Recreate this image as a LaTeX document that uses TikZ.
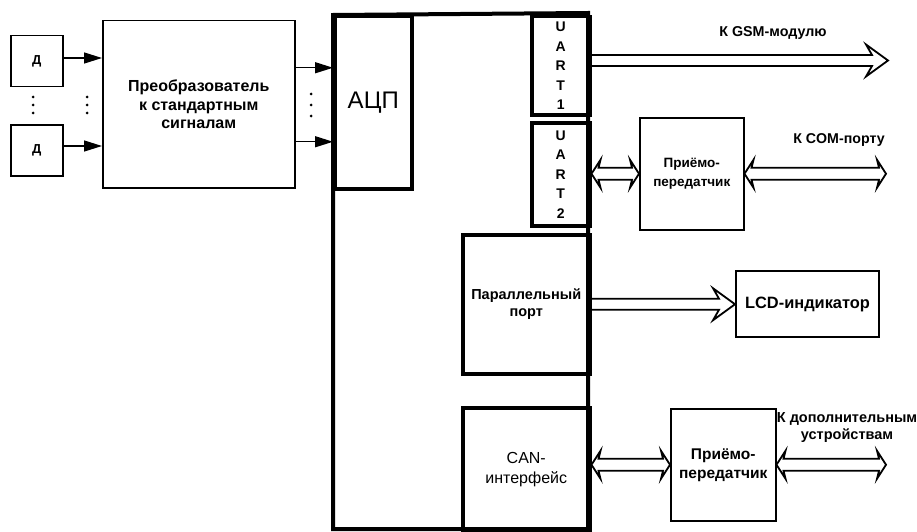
\documentclass[tikz,border=0pt]{standalone}
\usepackage{fontspec}
\setmainfont{Liberation Sans}
\usetikzlibrary{positioning,arrows.meta,calc}

% wide hollow bus arrow, pointing right
\newcommand{\busR}[2]{%
  \draw[bus] let \p1=(#1), \p2=(#2) in
    (\x1,\y1+5.5pt) -- (\x2-16pt,\y1+5.5pt) -- (\x2-22pt,\y1+16pt) -- (\x2,\y1)
    -- (\x2-22pt,\y1-16pt) -- (\x2-16pt,\y1-5.5pt) -- (\x1,\y1-5.5pt);}
% wide hollow bus arrow, both ways
\newcommand{\busLR}[2]{%
  \draw[bus] let \p1=(#1), \p2=(#2) in
    (\x1,\y1) -- (\x1+9pt,\y1+14pt) -- (\x1+7pt,\y1+6pt) -- (\x2-7pt,\y1+6pt)
    -- (\x2-9pt,\y1+14pt) -- (\x2,\y1) -- (\x2-9pt,\y1-14pt) -- (\x2-7pt,\y1-6pt)
    -- (\x1+7pt,\y1-6pt) -- (\x1+9pt,\y1-14pt) -- cycle;}

\begin{document}
\begin{tikzpicture}[x=1pt, y=-1pt, font=\bfseries,
  box/.style={draw, line width=1.5pt, inner sep=0pt, align=center, anchor=north west},
  tbox/.style={box, line width=3.5pt},
  arr/.style={-{Triangle[length=18pt, width=11pt]}, line width=1.4pt},
  bus/.style={line width=1.8pt, line join=miter},
  lbl/.style={align=center, inner sep=0pt}]
\useasboundingbox (0,0) rectangle (917,532);
% sensors and converter
\node[box, font=\fontsize{13}{15}\selectfont\bfseries] (d1) at (10,35) [minimum width=52pt, minimum height=51pt] {Д};
\node[box, font=\fontsize{13}{15}\selectfont\bfseries] (d2) at (10,124) [minimum width=52pt, minimum height=51pt] {Д};
\node[box, font=\fontsize{16}{18.5}\selectfont\bfseries] (conv) at (102,20) [minimum width=192pt, minimum height=167pt]
  {Преобразователь\\к стандартным\\сигналам};
\foreach \y in {97,105,113} {\fill (33,\y) circle (1.5pt); \fill (87,\y) circle (1.5pt);}
\foreach \y in {94,105,116} \fill (311,\y) circle (1.5pt);
% controller
\draw[line width=4pt] (333,15) -- (588,13) -- (588,529) -- (333,529) -- cycle;
\node[tbox, font=\fontsize{24}{28}\selectfont] (adc) at (333,15) [minimum width=77pt, minimum height=172pt] {АЦП};
\node[tbox, font=\fontsize{14}{19.5}\selectfont\bfseries] (uart1) at (530,15) [minimum width=58pt, minimum height=98pt]
  {U\\A\\R\\T\\1};
\node[tbox, font=\fontsize{14}{19.5}\selectfont\bfseries] (uart2) at (530,121) [minimum width=58pt, minimum height=103pt]
  {U\\A\\R\\T\\2};
\node[tbox, font=\fontsize{14.5}{17}\selectfont\bfseries] (par) at (461,233) [minimum width=127pt, minimum height=139pt]
  {Параллельный\\порт};
\node[tbox, font=\fontsize{16}{20}\selectfont] (can) at (461,406) [minimum width=127pt, minimum height=123pt]
  {CAN-\\интерфейс};
% periphery
\node[box, font=\fontsize{13.5}{19}\selectfont\bfseries] (trx1) at (639,117) [minimum width=104pt, minimum height=112pt]
  {Приёмо-\\передатчик};
\node[box, line width=2pt, font=\fontsize{16.4}{19}\selectfont\bfseries] (lcd) at (735,270) [minimum width=143pt, minimum height=66pt]
  {LCD-индикатор};
\node[box, font=\fontsize{15.5}{19}\selectfont\bfseries] (trx2) at (670,408) [minimum width=105pt, minimum height=112pt]
  {Приёмо-\\передатчик};
\coordinate (gsm) at (888,60.5);
\coordinate (com) at (886,173);
\coordinate (ext) at (886,464);
\node[lbl, font=\fontsize{14.3}{16}\selectfont\bfseries] (gsmlbl) at (773,33) {К GSM-модулю};
\node[lbl, font=\fontsize{14.2}{16}\selectfont\bfseries] (comlbl) at (839,140) {К COM-порту};
\node[lbl, font=\fontsize{14.5}{17}\selectfont\bfseries] (extlbl) at (847,428) {К дополнительным\\устройствам};
% connections
\coordinate (c1) at ([yshift=36.5pt]conv.east);
\coordinate (c2) at ([yshift=-37.5pt]conv.east);
\draw[arr] (d1.east |- 0,58) -- (conv.west |- 0,58);
\draw[arr] (d2.east |- 0,146) -- (conv.west |- 0,146);
\draw[arr] (c1) -- (c1 -| adc.west);
\draw[arr] (c2) -- (c2 -| adc.west);
\busR{uart1.east |- gsm}{gsm}
\busLR{trx1.west -| uart2.east}{trx1.west}
\busLR{trx1.east}{com}
\busR{par.east}{par.east -| lcd.west}
\busLR{trx2.west -| can.east}{trx2.west}
\busLR{trx2.east}{ext}
\end{tikzpicture}
\end{document}
